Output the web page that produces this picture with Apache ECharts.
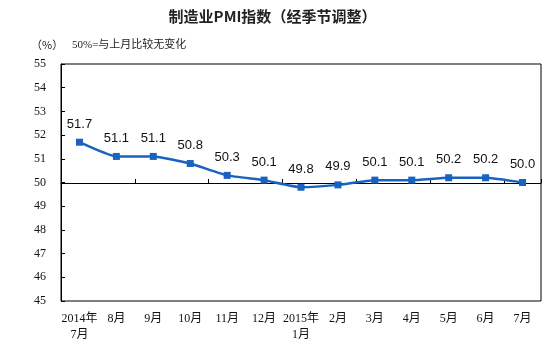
<!DOCTYPE html>
<html>
<head>
<meta charset="utf-8">
<script src="https://cdn.jsdelivr.net/npm/echarts@6/dist/echarts.min.js"></script>
<style>
  html, body { margin: 0; padding: 0; background: #fff; }
  #chart { width: 545px; height: 346px; }
</style>
</head>
<body>
<div id="chart"></div>
<script>
// Monthly manufacturing PMI, seasonally adjusted
const months = ['2014年\n7月', '8月', '9月', '10月', '11月', '12月', '2015年\n1月', '2月', '3月', '4月', '5月', '6月', '7月'];
const pmi = [51.7, 51.1, 51.1, 50.8, 50.3, 50.1, 49.8, 49.9, 50.1, 50.1, 50.2, 50.2, 50.0];
const yTicks = [45, 46, 47, 48, 49, 50, 51, 52, 53, 54, 55];

const serif = '"Liberation Serif", "Noto Sans CJK SC", serif';
const cjk = '"Noto Sans CJK SC", sans-serif';

const chart = echarts.init(document.getElementById('chart'));
chart.setOption({
  animation: false,
  backgroundColor: '#fff',
  title: [
    {
      text: '制造业PMI指数（经季节调整）',
      left: 'center', top: 4,
      textStyle: { fontFamily: cjk, fontSize: 15, fontWeight: 'bold', color: '#222' }
    },
    {
      text: '（%）',
      left: 26, top: 34,
      textStyle: { fontFamily: cjk, fontSize: 11, fontWeight: 'normal', color: '#222' }
    },
    {
      text: '50%=与上月比较无变化',
      left: 67, top: 35,
      textStyle: { fontFamily: serif, fontSize: 11, fontWeight: 'normal', color: '#222' }
    }
  ],
  grid: {
    left: 61, right: 4, top: 64, bottom: 45,
    show: true, borderColor: '#000', borderWidth: 1, backgroundColor: 'transparent'
  },
  xAxis: [
    {
      type: 'category', data: months, position: 'bottom', boundaryGap: true,
      axisLine: { show: false },
      axisTick: { show: false },
      axisLabel: {
        interval: 0, margin: 10, color: '#111',
        fontFamily: serif, fontSize: 12, lineHeight: 16
      }
    },
    {
      // baseline drawn across the 50 level, with category ticks
      type: 'category', data: months, position: 'bottom', offset: -118, boundaryGap: true,
      axisLine: { show: true, lineStyle: { color: '#000', width: 1 } },
      axisTick: { show: true, inside: true, length: 4, lineStyle: { color: '#000' } },
      axisLabel: { show: false }
    }
  ],
  yAxis: {
    type: 'value', min: yTicks[0], max: yTicks[yTicks.length - 1], interval: 1,
    axisLine: { show: true, lineStyle: { color: '#000' } },
    axisTick: { show: true, inside: true, length: 4, lineStyle: { color: '#000' } },
    splitLine: { show: false },
    axisLabel: {
      margin: 15, color: '#111', fontFamily: serif, fontSize: 12,
      formatter: v => yTicks.includes(v) ? String(v) : ''
    }
  },
  series: [{
    type: 'line',
    xAxisIndex: 0,
    data: pmi,
    smooth: 0.15,
    symbol: 'rect', symbolSize: 7,
    lineStyle: { color: '#1a62c0', width: 2.5 },
    itemStyle: { color: '#1a62c0' },
    label: {
      show: true, position: 'top', distance: 8,
      formatter: p => p.value.toFixed(1),
      fontFamily: '"Liberation Sans", Arial, sans-serif', fontSize: 13, color: '#111'
    }
  }]
});
</script>
</body>
</html>
